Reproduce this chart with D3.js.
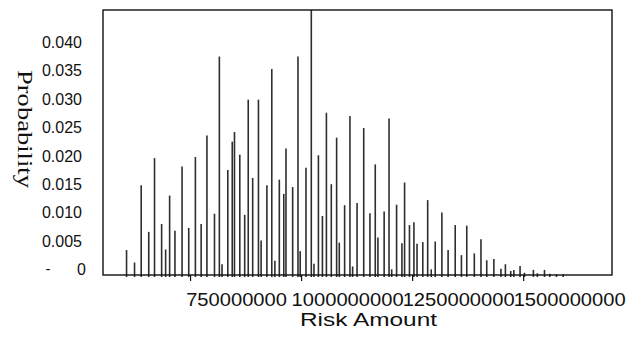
<!DOCTYPE html>
<html>
<head>
<meta charset="utf-8">
<script src="https://cdn.jsdelivr.net/npm/d3@7"></script>
<style>
  body { margin: 0; background: #fff; }
  svg { display: block; }
</style>
</head>
<body>
<div id="chart"></div>
<script>
// --- data ---
const riskAmounts = [
  607e6, 625e6, 640e6, 657e6, 670e6, 686e6, 695e6, 704e6, 716e6, 732e6,
  747e6, 762e6, 775e6, 788e6, 805e6, 816e6, 822e6, 835e6, 845e6, 850e6,
  862e6, 873e6, 881e6, 891e6, 904e6, 910e6, 923e6, 934e6, 941e6, 951e6,
  961e6, 966e6, 981e6, 993e6, 998e6, 1011e6, 1023e6, 1029e6, 1039e6, 1048e6,
  1057e6, 1068e6, 1080e6, 1086e6, 1098e6, 1110e6, 1116e6, 1126e6, 1141e6, 1155e6,
  1167e6, 1173e6, 1187e6, 1198e6, 1204e6, 1215e6, 1227e6, 1233e6, 1244e6, 1254e6,
  1261e6, 1274e6, 1285e6, 1293e6, 1302e6, 1317e6, 1331e6, 1347e6, 1361e6, 1373e6,
  1390e6, 1405e6, 1418e6, 1434e6, 1450e6, 1460e6, 1472e6, 1479e6, 1493e6, 1503e6,
  1523e6, 1532e6, 1548e6, 1560e6, 1575e6, 1590e6
];
const probabilities = [
  0.0044, 0.0022, 0.0158, 0.0076, 0.0206, 0.0090, 0.0045, 0.0140, 0.0078, 0.0191,
  0.0083, 0.0208, 0.0090, 0.0246, 0.0108, 0.0385, 0.0019, 0.0185, 0.0235, 0.0252,
  0.0212, 0.0106, 0.0309, 0.0171, 0.0309, 0.0061, 0.0158, 0.0363, 0.0025, 0.0168,
  0.0143, 0.0223, 0.0155, 0.0385, 0.0042, 0.0189, 0.0480, 0.0020, 0.0211, 0.0104,
  0.0286, 0.0160, 0.0242, 0.0057, 0.0123, 0.0280, 0.0015, 0.0127, 0.0259, 0.0109,
  0.0195, 0.0066, 0.0112, 0.0276, 0.0010, 0.0124, 0.0056, 0.0163, 0.0088, 0.0093,
  0.0055, 0.0058, 0.0132, 0.0010, 0.0059, 0.0110, 0.0044, 0.0088, 0.0035, 0.0087,
  0.0038, 0.0063, 0.0026, 0.0028, 0.0011, 0.0019, 0.0007, 0.0009, 0.0016, 0.0004,
  0.0009, 0.0003, 0.0009, 0.0002, 0.0001, 0.0001
];
const xTickValues = [750000000, 1000000000, 1250000000, 1500000000];
const yTickValues = [0, 0.005, 0.010, 0.015, 0.020, 0.025, 0.030, 0.035, 0.040];
const yTickLabels = ["0", "0.005", "0.010", "0.015", "0.020", "0.025", "0.030", "0.035", "0.040"];

// --- sizing ---
const width = 636, height = 345;
const plot = { left: 103, right: 612, top: 10, bottom: 275 };

const x = d3.scaleLinear().domain([554e6, 1700e6]).range([plot.left, plot.right]);
const y = d3.scaleLinear().domain([0, 0.0467]).range([plot.bottom, plot.top]);

const svg = d3.select('#chart').append('svg')
  .attr('width', width)
  .attr('height', height);

svg.append('clipPath').attr('id', 'plot-clip')
  .append('rect')
  .attr('x', plot.left).attr('y', plot.top)
  .attr('width', plot.right - plot.left)
  .attr('height', plot.bottom - plot.top + 3);

// spikes
const data = riskAmounts.map((a, i) => ({ amount: a, p: probabilities[i] }));
svg.append('g')
  .attr('clip-path', 'url(#plot-clip)')
  .selectAll('line')
  .data(data)
  .enter().append('line')
  .attr('x1', d => x(d.amount))
  .attr('x2', d => x(d.amount))
  .attr('y1', y(0) + 2)
  .attr('y2', d => y(d.p))
  .attr('stroke', '#2e2e2e')
  .attr('stroke-width', 1.6);

// frame
svg.append('rect')
  .attr('x', plot.left).attr('y', plot.top)
  .attr('width', plot.right - plot.left)
  .attr('height', plot.bottom - plot.top)
  .attr('fill', 'none')
  .attr('stroke', '#111')
  .attr('stroke-width', 1.4);

// x axis (labels sit to the right of their ticks, as in the original)
const xAxis = svg.append('g')
  .attr('transform', `translate(0,${plot.bottom})`)
  .call(d3.axisBottom(x).tickValues(xTickValues).tickSize(6).tickFormat(d3.format('d')));
xAxis.select('.domain').remove();
xAxis.selectAll('.tick line').attr('stroke', '#111').attr('stroke-width', 1.2);
xAxis.selectAll('.tick text')
  .attr('x', 46)
  .attr('y', 31)
  .attr('dy', null)
  .attr('fill', '#111')
  .style('font-family', 'Arial, "Liberation Sans", sans-serif')
  .style('font-size', '19px')
  .attr('textLength', d => String(d).length * 11.2)
  .attr('lengthAdjust', 'spacingAndGlyphs');

// y axis labels
svg.append('g')
  .selectAll('text')
  .data(yTickValues)
  .enter().append('text')
  .attr('x', (d, i) => i === 0 ? 86 : 82)
  .attr('y', d => y(d))
  .attr('text-anchor', 'end')
  .attr('fill', '#111')
  .style('font-family', 'Arial, "Liberation Sans", sans-serif')
  .style('font-size', '16px')
  .text((d, i) => yTickLabels[i]);

svg.append('text')
  .attr('x', 48).attr('y', y(0) - 1)
  .attr('text-anchor', 'middle')
  .attr('fill', '#111')
  .style('font-family', 'Arial, "Liberation Sans", sans-serif')
  .style('font-size', '15px')
  .text('-');

// axis titles
svg.append('text')
  .attr('transform', 'translate(18,129) rotate(90)')
  .attr('text-anchor', 'middle')
  .attr('fill', '#111')
  .style('font-family', '"Times New Roman", "Liberation Serif", serif')
  .style('font-size', '22px')
  .attr('textLength', 118)
  .attr('lengthAdjust', 'spacingAndGlyphs')
  .text('Probability');

svg.append('text')
  .attr('x', 368.5).attr('y', 326)
  .attr('text-anchor', 'middle')
  .attr('fill', '#111')
  .style('font-family', 'Arial, "Liberation Sans", sans-serif')
  .style('font-size', '18px')
  .attr('textLength', 137)
  .attr('lengthAdjust', 'spacingAndGlyphs')
  .text('Risk Amount');
</script>
</body>
</html>
